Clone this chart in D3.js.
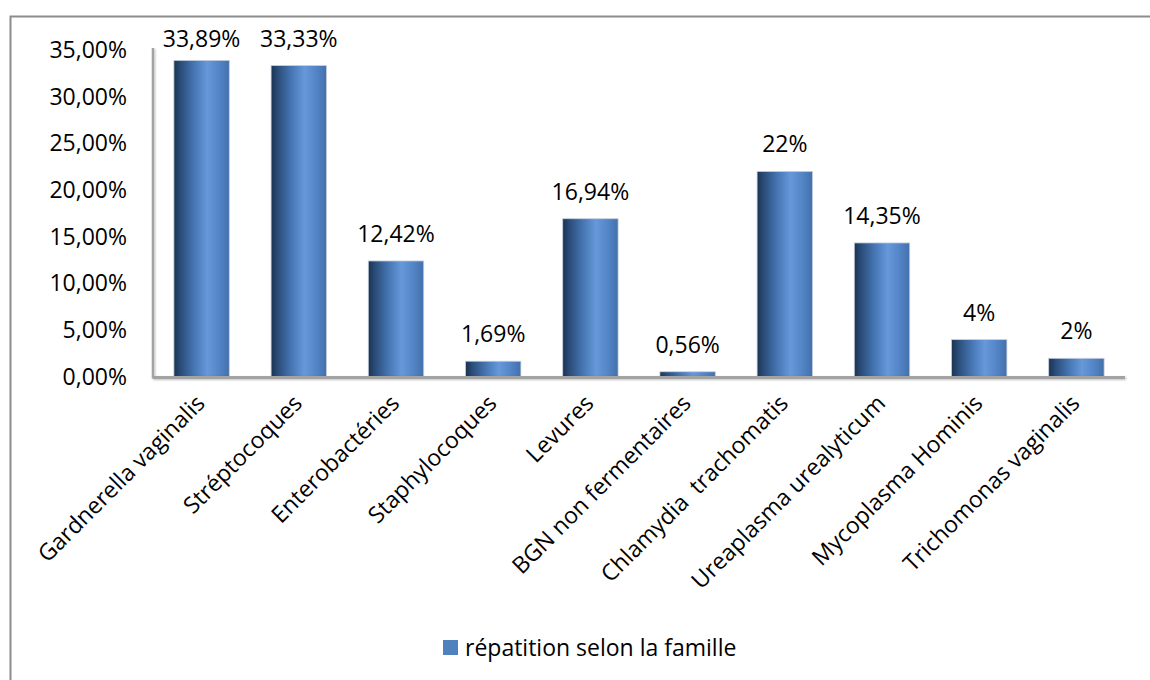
<!DOCTYPE html>
<html>
<head>
<meta charset="utf-8">
<script src="https://cdn.jsdelivr.net/npm/d3@7"></script>
<style>
  html, body { margin: 0; padding: 0; background: #fff; }
  svg { display: block; }
  text { font-family: "Open Sans", "DejaVu Sans", sans-serif; fill: #000; }
</style>
</head>
<body>
<svg id="chart" width="1150" height="680"></svg>
<script>
// Categories and their share (%) of isolates
const categories = [
  "Gardnerella vaginalis",
  "Stréptocoques",
  "Enterobactéries",
  "Staphylocoques",
  "Levures",
  "BGN non fermentaires",
  "Chlamydia  trachomatis",
  "Ureaplasma urealyticum",
  "Mycoplasma Hominis",
  "Trichomonas vaginalis"
];
const values = [33.89, 33.33, 12.42, 1.69, 16.94, 0.56, 22, 14.35, 4, 2];
const valueLabels = ["33,89%", "33,33%", "12,42%", "1,69%", "16,94%", "0,56%", "22%", "14,35%", "4%", "2%"];
const yTicks = [0, 5, 10, 15, 20, 25, 30, 35];
const seriesName = "répatition selon la famille";

const FONT_SIZE = 23;
const svg = d3.select("#chart");

// Outer chart frame
svg.append("rect")
  .attr("x", 10.5).attr("y", 16.5)
  .attr("width", 1160).attr("height", 700)
  .attr("fill", "#fff")
  .attr("stroke", "#8c8c8c")
  .attr("stroke-width", 2);

const plot = { left: 153, right: 1125, top: 50, bottom: 377 };

const x = d3.scaleBand()
  .domain(categories)
  .range([plot.left, plot.right])
  .paddingInner(0.43)
  .paddingOuter(0.215);

const y = d3.scaleLinear()
  .domain([0, 35])
  .range([plot.bottom, plot.top]);

// Cylinder-like horizontal shading for the bars
const defs = svg.append("defs");
const grad = defs.append("linearGradient")
  .attr("id", "barShade")
  .attr("x1", "0%").attr("x2", "100%").attr("y1", "0%").attr("y2", "0%");
[
  [0, "#1b3352"], [0.12, "#2a4c78"], [0.35, "#4473b0"],
  [0.6, "#6698da"], [0.82, "#5284c6"], [1, "#4470ab"]
].forEach(([o, c]) => grad.append("stop").attr("offset", o).attr("stop-color", c));

const shadow = defs.append("filter").attr("id", "axShadow")
  .attr("x", "-5%").attr("y", "-5%").attr("width", "110%").attr("height", "110%");
shadow.append("feDropShadow")
  .attr("dx", 1).attr("dy", 1).attr("stdDeviation", 0.8)
  .attr("flood-color", "#000").attr("flood-opacity", 0.25);

// Y axis labels
const yAxis = d3.axisLeft(y)
  .tickValues(yTicks)
  .tickSize(0)
  .tickPadding(26)
  .tickFormat(d => d3.format(".2f")(d).replace(".", ",") + "%");

const gy = svg.append("g")
  .attr("transform", `translate(${plot.left},0)`)
  .call(yAxis);
gy.select(".domain").remove();
gy.selectAll("text")
  .attr("font-size", FONT_SIZE)
  .attr("font-family", "'Open Sans', sans-serif")
  .attr("fill", "#000");

// Bars
svg.append("g").selectAll("rect")
  .data(values)
  .join("rect")
  .attr("x", (d, i) => x(categories[i]))
  .attr("y", d => y(d))
  .attr("width", x.bandwidth())
  .attr("height", d => y(0) - y(d))
  .attr("fill", "url(#barShade)")
  .attr("stroke", "#c5cfdc")
  .attr("stroke-width", 0.8);

// Axis lines
const axes = svg.append("g").attr("filter", "url(#axShadow)");
axes.append("line")
  .attr("x1", plot.left).attr("x2", plot.left)
  .attr("y1", plot.top - 2).attr("y2", plot.bottom + 1.5)
  .attr("stroke", "#a3a3a3").attr("stroke-width", 2.5);
axes.append("line")
  .attr("x1", plot.left).attr("x2", plot.right)
  .attr("y1", plot.bottom + 0.5).attr("y2", plot.bottom + 0.5)
  .attr("stroke", "#a3a3a3").attr("stroke-width", 3);

// Value labels above bars
svg.append("g").selectAll("text")
  .data(values)
  .join("text")
  .attr("x", (d, i) => x(categories[i]) + x.bandwidth() / 2)
  .attr("y", d => Math.max(y(d) - 19, 47))
  .attr("text-anchor", "middle")
  .attr("font-size", FONT_SIZE)
  .text((d, i) => valueLabels[i]);

// Rotated category labels
svg.append("g").selectAll("text")
  .data(categories)
  .join("text")
  .attr("transform", d => `translate(${x(d) + x.bandwidth() / 2 - 1},${plot.bottom + 22}) rotate(-45)`)
  .attr("text-anchor", "end")
  .attr("dy", "0.35em")
  .attr("font-size", FONT_SIZE)
  .attr("xml:space", "preserve")
  .style("white-space", "pre")
  .text(d => d);

// Legend
const legend = svg.append("g").attr("transform", "translate(443,640)");
legend.append("rect")
  .attr("width", 15).attr("height", 15)
  .attr("fill", "#4f81bd");
legend.append("text")
  .attr("x", 22).attr("y", 15.5)
  .attr("font-size", FONT_SIZE)
  .text(seriesName);
</script>
</body>
</html>
